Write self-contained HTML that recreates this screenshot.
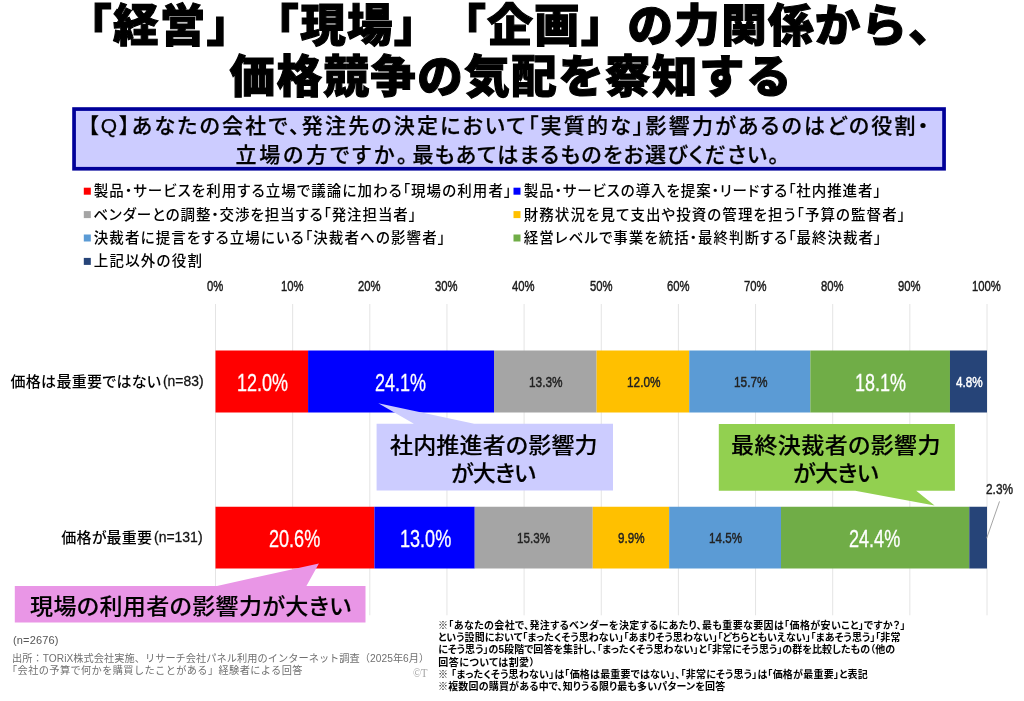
<!DOCTYPE html>
<html lang="ja"><head><meta charset="utf-8"><title>価格競争の気配を察知する</title>
<style>
html,body{margin:0;padding:0;background:#fff;}
body{width:1024px;height:701px;position:relative;overflow:hidden;}
.t{position:absolute;white-space:nowrap;line-height:1;transform-origin:0 0;margin:0;padding:0;text-spacing-trim:space-all;}
.p{font-feature-settings:"palt" 1;}
#txt{position:absolute;left:0;top:0;width:1024px;height:701px;will-change:transform;}
svg{position:absolute;left:0;top:0;}
</style></head>
<body>
<svg width="1024" height="701" viewBox="0 0 1024 701">
<line x1="215.5" y1="304" x2="215.5" y2="615.3" stroke="#e4e4e4" stroke-width="1"/>
<line x1="292.65" y1="304" x2="292.65" y2="615.3" stroke="#e4e4e4" stroke-width="1"/>
<line x1="369.8" y1="304" x2="369.8" y2="615.3" stroke="#e4e4e4" stroke-width="1"/>
<line x1="446.95" y1="304" x2="446.95" y2="615.3" stroke="#e4e4e4" stroke-width="1"/>
<line x1="524.1" y1="304" x2="524.1" y2="615.3" stroke="#e4e4e4" stroke-width="1"/>
<line x1="601.25" y1="304" x2="601.25" y2="615.3" stroke="#e4e4e4" stroke-width="1"/>
<line x1="678.4" y1="304" x2="678.4" y2="615.3" stroke="#e4e4e4" stroke-width="1"/>
<line x1="755.55" y1="304" x2="755.55" y2="615.3" stroke="#e4e4e4" stroke-width="1"/>
<line x1="832.7" y1="304" x2="832.7" y2="615.3" stroke="#e4e4e4" stroke-width="1"/>
<line x1="909.85" y1="304" x2="909.85" y2="615.3" stroke="#e4e4e4" stroke-width="1"/>
<line x1="987" y1="304" x2="987" y2="615.3" stroke="#e4e4e4" stroke-width="1"/>
<rect x="215.5" y="350.5" width="92.58" height="62" fill="#ff0000"/>
<rect x="308.08" y="350.5" width="185.93" height="62" fill="#0000ff"/>
<rect x="494.01" y="350.5" width="102.61" height="62" fill="#a5a5a5"/>
<rect x="596.62" y="350.5" width="92.58" height="62" fill="#ffc000"/>
<rect x="689.2" y="350.5" width="121.13" height="62" fill="#5b9bd5"/>
<rect x="810.33" y="350.5" width="139.64" height="62" fill="#70ad47"/>
<rect x="949.97" y="350.5" width="37.03" height="62" fill="#264478"/>
<rect x="215.5" y="506.75" width="158.93" height="61.75" fill="#ff0000"/>
<rect x="374.43" y="506.75" width="100.3" height="61.75" fill="#0000ff"/>
<rect x="474.72" y="506.75" width="118.04" height="61.75" fill="#a5a5a5"/>
<rect x="592.76" y="506.75" width="76.38" height="61.75" fill="#ffc000"/>
<rect x="669.14" y="506.75" width="111.87" height="61.75" fill="#5b9bd5"/>
<rect x="781.01" y="506.75" width="188.25" height="61.75" fill="#70ad47"/>
<rect x="969.26" y="506.75" width="17.74" height="61.75" fill="#264478"/>
</svg>
<svg width="1024" height="701" viewBox="0 0 1024 701">
<rect x="74.05" y="109.05" width="870" height="59.7" fill="#ccccff" stroke="#000099" stroke-width="3.7"/>
<rect x="83.8" y="187.7" width="7" height="7" fill="#ff0000"/>
<rect x="83.8" y="211.1" width="7" height="7" fill="#a5a5a5"/>
<rect x="83.8" y="234.5" width="7" height="7" fill="#5b9bd5"/>
<rect x="83.8" y="257.9" width="7" height="7" fill="#264478"/>
<rect x="513.5" y="187.7" width="7" height="7" fill="#0000ff"/>
<rect x="513.5" y="211.1" width="7" height="7" fill="#ffc000"/>
<rect x="513.5" y="234.5" width="7" height="7" fill="#70ad47"/>
<polygon points="376.6,423.8 413.9,423.8 378.3,403.2 474.2,423.8 613,423.8 613,490.6 376.6,490.6" fill="#ccccff"/>
<polygon points="718.8,424 954.9,424 954.9,490.8 916.2,490.8 934.6,505.5 855.2,490.8 718.8,490.8" fill="#92d050"/>
<polygon points="14.8,585.9 217,585.9 318.9,563.5 306.4,585.9 365.5,585.9 365.5,622.4 14.8,622.4" fill="#e996e6"/>
<line x1="999.5" y1="501.4" x2="986.7" y2="538.2" stroke="#9a9a9a" stroke-width="0.9"/>
</svg>
<div id="txt">
<div id="t1" class="t" style='left:66.25px;top:3.62px;font-size:45.5px;font-weight:900;color:#000;font-family:"Liberation Sans", "Noto Sans CJK JP", sans-serif;letter-spacing:1.278px;-webkit-text-stroke:1.1px #000;'>「経営」「現場」「企画」の力関係から、</div>
<div id="t2" class="t" style='left:229.5px;top:54.5px;font-size:45.5px;font-weight:900;color:#000;font-family:"Liberation Sans", "Noto Sans CJK JP", sans-serif;letter-spacing:1.455px;-webkit-text-stroke:1.1px #000;'>価格競争の気配を察知する</div>
<div id="q1" class="t p" style='left:88px;top:114.75px;font-size:21px;font-weight:500;color:#000;font-family:"Liberation Sans", "Noto Sans CJK JP", sans-serif;letter-spacing:2.192px;-webkit-text-stroke:0.25px #000;'>【Q】あなたの会社で、発注先の決定において「実質的な」影響力があるのはどの役割・</div>
<div id="q2" class="t p" style='left:235.5px;top:143.95px;font-size:21px;font-weight:500;color:#000;font-family:"Liberation Sans", "Noto Sans CJK JP", sans-serif;letter-spacing:2.821px;-webkit-text-stroke:0.25px #000;'>立場の方ですか。</div>
<div id="q2b" class="t p" style='left:412.4px;top:143.95px;font-size:21px;font-weight:500;color:#000;font-family:"Liberation Sans", "Noto Sans CJK JP", sans-serif;letter-spacing:1.282px;-webkit-text-stroke:0.25px #000;'>最もあてはまるものをお選びください。</div>
<div id="l1" class="t p" style='left:93.75px;top:184px;font-size:14.5px;font-weight:500;color:#000;font-family:"Liberation Sans", "Noto Sans CJK JP", sans-serif;letter-spacing:1.071px;'>製品・サービスを利用する立場で議論に加わる「現場の利用者」</div>
<div id="l2" class="t p" style='left:93.25px;top:207.5px;font-size:14.5px;font-weight:500;color:#000;font-family:"Liberation Sans", "Noto Sans CJK JP", sans-serif;letter-spacing:0.920px;'>ベンダーとの調整・交渉を担当する「発注担当者」</div>
<div id="l3" class="t p" style='left:93.75px;top:231px;font-size:14.5px;font-weight:500;color:#000;font-family:"Liberation Sans", "Noto Sans CJK JP", sans-serif;letter-spacing:1.109px;'>決裁者に提言をする立場にいる「決裁者への影響者」</div>
<div id="l4" class="t p" style='left:93.75px;top:254px;font-size:14.5px;font-weight:500;color:#000;font-family:"Liberation Sans", "Noto Sans CJK JP", sans-serif;letter-spacing:1.208px;'>上記以外の役割</div>
<div id="l5" class="t p" style='left:523.75px;top:184px;font-size:14.5px;font-weight:500;color:#000;font-family:"Liberation Sans", "Noto Sans CJK JP", sans-serif;letter-spacing:0.920px;'>製品・サービスの導入を提案・リードする「社内推進者」</div>
<div id="l6" class="t p" style='left:523.75px;top:207.5px;font-size:14.5px;font-weight:500;color:#000;font-family:"Liberation Sans", "Noto Sans CJK JP", sans-serif;letter-spacing:1.060px;'>財務状況を見て支出や投資の管理を担う「予算の監督者」</div>
<div id="l7" class="t p" style='left:523.75px;top:231px;font-size:14.5px;font-weight:500;color:#000;font-family:"Liberation Sans", "Noto Sans CJK JP", sans-serif;letter-spacing:1.010px;'>経営レベルで事業を統括・最終判断する「最終決裁者」</div>
<div id="a0" class="t" style='left:207.25px;top:277.95px;font-size:15px;font-weight:400;color:#1a1a1a;font-family:"Liberation Sans", "Noto Sans CJK JP", sans-serif;transform:scaleX(0.7524);-webkit-text-stroke:0.45px #1a1a1a;'>0%</div>
<div id="a1" class="t" style='left:281px;top:277.95px;font-size:15px;font-weight:400;color:#1a1a1a;font-family:"Liberation Sans", "Noto Sans CJK JP", sans-serif;transform:scaleX(0.7524);-webkit-text-stroke:0.45px #1a1a1a;'>10%</div>
<div id="a2" class="t" style='left:358.15px;top:277.95px;font-size:15px;font-weight:400;color:#1a1a1a;font-family:"Liberation Sans", "Noto Sans CJK JP", sans-serif;transform:scaleX(0.7524);-webkit-text-stroke:0.45px #1a1a1a;'>20%</div>
<div id="a3" class="t" style='left:435.3px;top:277.95px;font-size:15px;font-weight:400;color:#1a1a1a;font-family:"Liberation Sans", "Noto Sans CJK JP", sans-serif;transform:scaleX(0.7524);-webkit-text-stroke:0.45px #1a1a1a;'>30%</div>
<div id="a4" class="t" style='left:512.45px;top:277.95px;font-size:15px;font-weight:400;color:#1a1a1a;font-family:"Liberation Sans", "Noto Sans CJK JP", sans-serif;transform:scaleX(0.7524);-webkit-text-stroke:0.45px #1a1a1a;'>40%</div>
<div id="a5" class="t" style='left:589.6px;top:277.95px;font-size:15px;font-weight:400;color:#1a1a1a;font-family:"Liberation Sans", "Noto Sans CJK JP", sans-serif;transform:scaleX(0.7524);-webkit-text-stroke:0.45px #1a1a1a;'>50%</div>
<div id="a6" class="t" style='left:666.75px;top:277.95px;font-size:15px;font-weight:400;color:#1a1a1a;font-family:"Liberation Sans", "Noto Sans CJK JP", sans-serif;transform:scaleX(0.7524);-webkit-text-stroke:0.45px #1a1a1a;'>60%</div>
<div id="a7" class="t" style='left:743.9px;top:277.95px;font-size:15px;font-weight:400;color:#1a1a1a;font-family:"Liberation Sans", "Noto Sans CJK JP", sans-serif;transform:scaleX(0.7524);-webkit-text-stroke:0.45px #1a1a1a;'>70%</div>
<div id="a8" class="t" style='left:821.05px;top:277.95px;font-size:15px;font-weight:400;color:#1a1a1a;font-family:"Liberation Sans", "Noto Sans CJK JP", sans-serif;transform:scaleX(0.7524);-webkit-text-stroke:0.45px #1a1a1a;'>80%</div>
<div id="a9" class="t" style='left:898.2px;top:277.95px;font-size:15px;font-weight:400;color:#1a1a1a;font-family:"Liberation Sans", "Noto Sans CJK JP", sans-serif;transform:scaleX(0.7524);-webkit-text-stroke:0.45px #1a1a1a;'>90%</div>
<div id="a10" class="t" style='left:972px;top:277.95px;font-size:15px;font-weight:400;color:#1a1a1a;font-family:"Liberation Sans", "Noto Sans CJK JP", sans-serif;transform:scaleX(0.7524);-webkit-text-stroke:0.45px #1a1a1a;'>100%</div>
<div id="c1" class="t p" style='left:10.5px;top:374px;font-size:15px;font-weight:500;color:#000;font-family:"Liberation Sans", "Noto Sans CJK JP", sans-serif;letter-spacing:0.300px;'>価格は最重要ではない</div>
<div id="c1n" class="t" style='left:162.8px;top:372.7px;font-size:15px;font-weight:400;color:#111;font-family:"Liberation Sans", "Noto Sans CJK JP", sans-serif;transform:scaleX(0.9256);-webkit-text-stroke:0.3px #111;'>(n=83)</div>
<div id="c2" class="t p" style='left:61.25px;top:530.2px;font-size:15px;font-weight:500;color:#000;font-family:"Liberation Sans", "Noto Sans CJK JP", sans-serif;letter-spacing:0.210px;'>価格が最重要</div>
<div id="c2n" class="t" style='left:154.4px;top:529.1px;font-size:15px;font-weight:400;color:#111;font-family:"Liberation Sans", "Noto Sans CJK JP", sans-serif;transform:scaleX(0.9314);-webkit-text-stroke:0.3px #111;'>(n=131)</div>
<div id="b11" class="t" style='left:237px;top:372px;font-size:23px;font-weight:400;color:#fff;font-family:"Liberation Sans", "Noto Sans CJK JP", sans-serif;transform:scaleX(0.7814);-webkit-text-stroke:0.3px #fff;'>12.0%</div>
<div id="b12" class="t" style='left:375px;top:372px;font-size:23px;font-weight:400;color:#fff;font-family:"Liberation Sans", "Noto Sans CJK JP", sans-serif;transform:scaleX(0.7814);-webkit-text-stroke:0.3px #fff;'>24.1%</div>
<div id="b13" class="t" style='left:528.75px;top:374.25px;font-size:15px;font-weight:400;color:#222;font-family:"Liberation Sans", "Noto Sans CJK JP", sans-serif;transform:scaleX(0.7895);-webkit-text-stroke:0.45px #222;'>13.3%</div>
<div id="b14" class="t" style='left:627px;top:374.25px;font-size:15px;font-weight:400;color:#222;font-family:"Liberation Sans", "Noto Sans CJK JP", sans-serif;transform:scaleX(0.7895);-webkit-text-stroke:0.45px #222;'>12.0%</div>
<div id="b15" class="t" style='left:733.75px;top:374.25px;font-size:15px;font-weight:400;color:#222;font-family:"Liberation Sans", "Noto Sans CJK JP", sans-serif;transform:scaleX(0.7895);-webkit-text-stroke:0.45px #222;'>15.7%</div>
<div id="b16" class="t" style='left:854.75px;top:372px;font-size:23px;font-weight:400;color:#fff;font-family:"Liberation Sans", "Noto Sans CJK JP", sans-serif;transform:scaleX(0.7814);-webkit-text-stroke:0.3px #fff;'>18.1%</div>
<div id="b17" class="t" style='left:955.5px;top:374.5px;font-size:14px;font-weight:400;color:#fff;font-family:"Liberation Sans", "Noto Sans CJK JP", sans-serif;transform:scaleX(0.8353);-webkit-text-stroke:0.45px #fff;'>4.8%</div>
<div id="b21" class="t" style='left:268.5px;top:528px;font-size:23px;font-weight:400;color:#fff;font-family:"Liberation Sans", "Noto Sans CJK JP", sans-serif;transform:scaleX(0.7858);-webkit-text-stroke:0.3px #fff;'>20.6%</div>
<div id="b22" class="t" style='left:399.5px;top:528px;font-size:23px;font-weight:400;color:#fff;font-family:"Liberation Sans", "Noto Sans CJK JP", sans-serif;transform:scaleX(0.7858);-webkit-text-stroke:0.3px #fff;'>13.0%</div>
<div id="b23" class="t" style='left:517px;top:530.38px;font-size:15px;font-weight:400;color:#222;font-family:"Liberation Sans", "Noto Sans CJK JP", sans-serif;transform:scaleX(0.7759);-webkit-text-stroke:0.45px #222;'>15.3%</div>
<div id="b24" class="t" style='left:618px;top:530.38px;font-size:15px;font-weight:400;color:#222;font-family:"Liberation Sans", "Noto Sans CJK JP", sans-serif;transform:scaleX(0.7759);-webkit-text-stroke:0.45px #222;'>9.9%</div>
<div id="b25" class="t" style='left:708.75px;top:530.38px;font-size:15px;font-weight:400;color:#222;font-family:"Liberation Sans", "Noto Sans CJK JP", sans-serif;transform:scaleX(0.7759);-webkit-text-stroke:0.45px #222;'>14.5%</div>
<div id="b26" class="t" style='left:849px;top:528px;font-size:23px;font-weight:400;color:#fff;font-family:"Liberation Sans", "Noto Sans CJK JP", sans-serif;transform:scaleX(0.7858);-webkit-text-stroke:0.3px #fff;'>24.4%</div>
<div id="b27" class="t" style='left:985.5px;top:482.2px;font-size:14.5px;font-weight:400;color:#222;font-family:"Liberation Sans", "Noto Sans CJK JP", sans-serif;transform:scaleX(0.8173);-webkit-text-stroke:0.45px #222;'>2.3%</div>
<div id="k1a" class="t p" style='left:390px;top:435.75px;font-size:21.5px;font-weight:500;color:#000;font-family:"Liberation Sans", "Noto Sans CJK JP", sans-serif;transform:scaleX(1.0700);letter-spacing:0.158px;-webkit-text-stroke:0.15px #000;'>社内推進者の影響力</div>
<div id="k1b" class="t p" style='left:450.9px;top:463.62px;font-size:21.5px;font-weight:500;color:#000;font-family:"Liberation Sans", "Noto Sans CJK JP", sans-serif;transform:scaleX(1.0700);letter-spacing:-0.763px;-webkit-text-stroke:0.15px #000;'>が大きい</div>
<div id="k2a" class="t p" style='left:731px;top:436.15px;font-size:21.5px;font-weight:500;color:#000;font-family:"Liberation Sans", "Noto Sans CJK JP", sans-serif;transform:scaleX(1.0700);letter-spacing:0.381px;-webkit-text-stroke:0.15px #000;'>最終決裁者の影響力</div>
<div id="k2b" class="t p" style='left:792.7px;top:463.7px;font-size:21.5px;font-weight:500;color:#000;font-family:"Liberation Sans", "Noto Sans CJK JP", sans-serif;transform:scaleX(1.0700);letter-spacing:-0.515px;-webkit-text-stroke:0.15px #000;'>が大きい</div>
<div id="k3" class="t p" style='left:29.5px;top:596.7px;font-size:21.5px;font-weight:500;color:#000;font-family:"Liberation Sans", "Noto Sans CJK JP", sans-serif;transform:scaleX(1.0700);letter-spacing:0.378px;-webkit-text-stroke:0.15px #000;'>現場の利用者の影響力が大きい</div>
<div id="f0" class="t p" style='left:13px;top:634.5px;font-size:11px;font-weight:400;color:#555;font-family:"Liberation Sans", "Noto Sans CJK JP", sans-serif;letter-spacing:0.143px;'>(n=2676)</div>
<div id="f1" class="t" style='left:12px;top:653.62px;font-size:10.2px;font-weight:400;color:#707070;font-family:"Liberation Sans", "Noto Sans CJK JP", sans-serif;letter-spacing:0.045px;'>出所：TORiX株式会社実施、リサーチ会社パネル利用のインターネット調査（2025年6月）</div>
<div id="f2" class="t" style='left:7px;top:665.5px;font-size:10.2px;font-weight:400;color:#707070;font-family:"Liberation Sans", "Noto Sans CJK JP", sans-serif;letter-spacing:0.389px;'>「会社の予算で何かを購買したことがある」経験者による回答</div>
<div id="f3" class="t" style='left:412.8px;top:667px;font-size:12px;font-weight:400;color:#a3a3a3;font-family:"Liberation Serif", serif;transform:scaleX(0.8822);'>©T</div>
<div id="n1" class="t p" style='left:438px;top:621.25px;font-size:10px;font-weight:700;color:#000;font-family:"Liberation Sans", "Noto Sans CJK JP", sans-serif;letter-spacing:0.367px;'>※「あなたの会社で、発注するベンダーを決定するにあたり、最も重要な要因は「価格が安いこと」ですか？」</div>
<div id="n2" class="t p" style='left:438px;top:633px;font-size:10px;font-weight:700;color:#000;font-family:"Liberation Sans", "Noto Sans CJK JP", sans-serif;letter-spacing:0.033px;'>という設問において「まったくそう思わない」「あまりそう思わない」「どちらともいえない」「まあそう思う」「非常</div>
<div id="n3" class="t p" style='left:438.25px;top:645.25px;font-size:10px;font-weight:700;color:#000;font-family:"Liberation Sans", "Noto Sans CJK JP", sans-serif;letter-spacing:0.054px;'>にそう思う」の5段階で回答を集計し、「まったくそう思わない」と「非常にそう思う」の群を比較したもの（他の</div>
<div id="n4" class="t p" style='left:438.25px;top:658px;font-size:10px;font-weight:700;color:#000;font-family:"Liberation Sans", "Noto Sans CJK JP", sans-serif;letter-spacing:0.472px;'>回答については割愛）</div>
<div id="n5" class="t p" style='left:438px;top:669.5px;font-size:10px;font-weight:700;color:#000;font-family:"Liberation Sans", "Noto Sans CJK JP", sans-serif;letter-spacing:0.204px;'>※ 「まったくそう思わない」は「価格は最重要ではない」、「非常にそう思う」は「価格が最重要」と表記</div>
<div id="n6" class="t p" style='left:438px;top:682px;font-size:10px;font-weight:700;color:#000;font-family:"Liberation Sans", "Noto Sans CJK JP", sans-serif;letter-spacing:0.172px;'>※複数回の購買がある中で、知りうる限り最も多いパターンを回答</div>
</div>
</body></html>
